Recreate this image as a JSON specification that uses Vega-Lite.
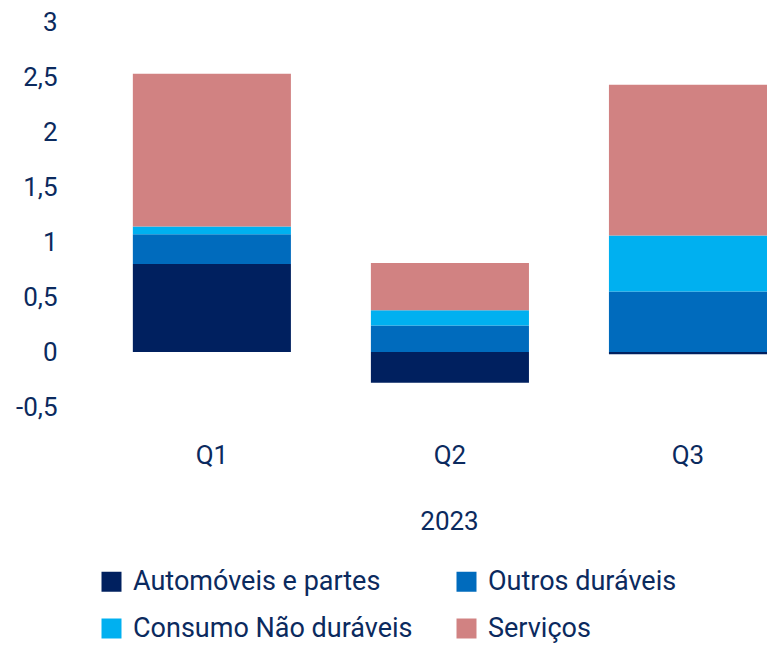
{
  "$schema": "https://vega.github.io/schema/vega-lite/v6.json",
  "width": 697,
  "height": 385,
  "autosize": "none",
  "padding": {"left": 70, "top": 22, "right": 0, "bottom": 239},
  "config": {"view": {"stroke": null}, "font": "Roboto"},
  "data": {
    "values": [
      {"trimestre": "Q1", "componente": "Automóveis e partes", "ordem": 1, "valor": 0.80},
      {"trimestre": "Q1", "componente": "Outros duráveis", "ordem": 2, "valor": 0.27},
      {"trimestre": "Q1", "componente": "Consumo Não duráveis", "ordem": 3, "valor": 0.07},
      {"trimestre": "Q1", "componente": "Serviços", "ordem": 4, "valor": 1.39},
      {"trimestre": "Q2", "componente": "Automóveis e partes", "ordem": 1, "valor": -0.28},
      {"trimestre": "Q2", "componente": "Outros duráveis", "ordem": 2, "valor": 0.24},
      {"trimestre": "Q2", "componente": "Consumo Não duráveis", "ordem": 3, "valor": 0.14},
      {"trimestre": "Q2", "componente": "Serviços", "ordem": 4, "valor": 0.43},
      {"trimestre": "Q3", "componente": "Automóveis e partes", "ordem": 1, "valor": -0.02},
      {"trimestre": "Q3", "componente": "Outros duráveis", "ordem": 2, "valor": 0.55},
      {"trimestre": "Q3", "componente": "Consumo Não duráveis", "ordem": 3, "valor": 0.51},
      {"trimestre": "Q3", "componente": "Serviços", "ordem": 4, "valor": 1.37}
    ]
  },
  "mark": {"type": "bar"},
  "encoding": {
    "x": {
      "field": "trimestre",
      "type": "nominal",
      "scale": {"paddingInner": 0.336, "paddingOuter": 0.132, "align": 1},
      "axis": {
        "title": "2023",
        "titleFontSize": 26,
        "titleFontWeight": "normal",
        "titleColor": "#0b2a5e",
        "titleX": 379,
        "titlePadding": 40,
        "labelAngle": 0,
        "labelFontSize": 26,
        "labelColor": "#0b2a5e",
        "labelPadding": 35,
        "domain": false,
        "ticks": false,
        "grid": false
      }
    },
    "y": {
      "field": "valor",
      "type": "quantitative",
      "stack": "zero",
      "scale": {"domain": [-0.5, 3], "nice": false, "zero": false},
      "axis": {
        "title": null,
        "values": [-0.5, 0, 0.5, 1, 1.5, 2, 2.5, 3],
        "labelExpr": "replace(replace(format(datum.value, '.1~f'), '.', ','), '−', '-')",
        "labelFontSize": 26,
        "labelColor": "#0b2a5e",
        "labelPadding": 13,
        "domain": false,
        "ticks": false,
        "grid": false
      }
    },
    "color": {
      "field": "componente",
      "type": "nominal",
      "scale": {
        "domain": ["Automóveis e partes", "Outros duráveis", "Consumo Não duráveis", "Serviços"],
        "range": ["#00205f", "#006bbd", "#00b0f0", "#d18282"]
      },
      "legend": {
        "title": null,
        "orient": "none",
        "legendX": 28,
        "legendY": 546,
        "direction": "horizontal",
        "columns": 2,
        "symbolType": "square",
        "symbolSize": 400,
        "symbolStrokeWidth": 0,
        "labelFontSize": 27,
        "labelColor": "#0b2a5e",
        "labelOffset": 8,
        "rowPadding": 19,
        "columnPadding": 40,
        "labelLimit": 400
      }
    },
    "order": {"field": "ordem"}
  }
}
